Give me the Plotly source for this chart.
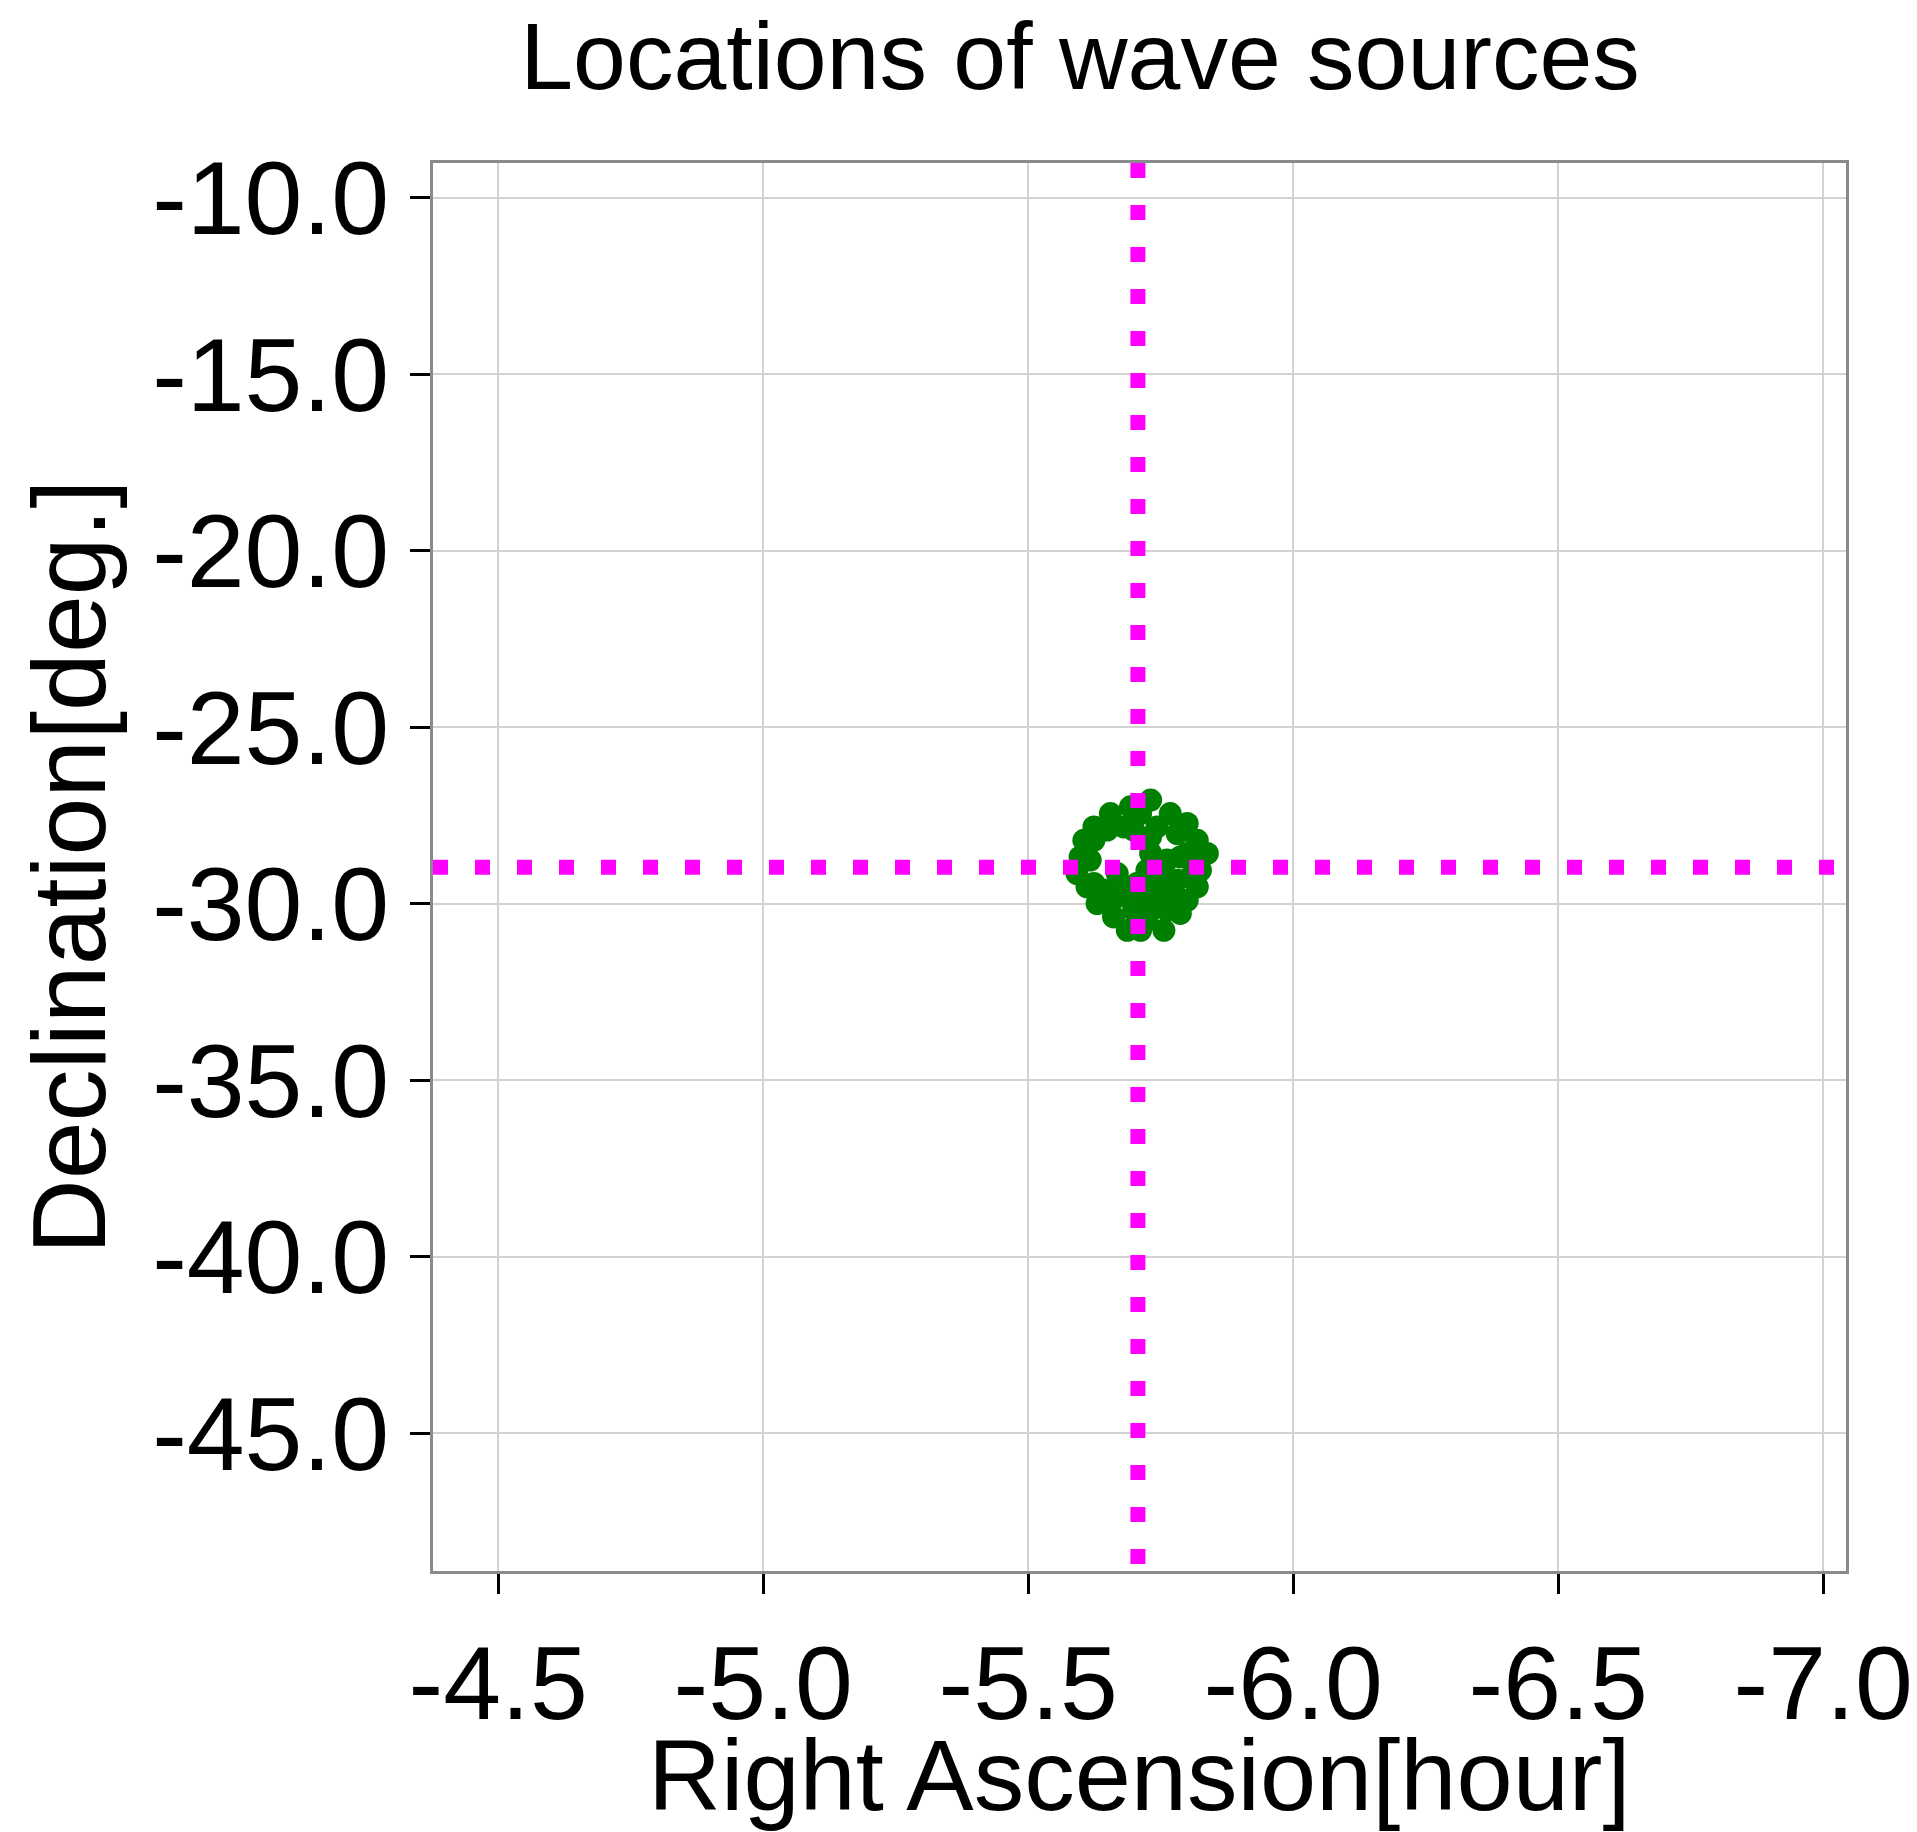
import plotly.graph_objects as go

# Estimated source positions (right ascension in hours, declination in degrees)
ra_hours = [
    -5.731, -5.693, -5.768, -5.655, -5.800, -5.624, -5.605, -5.819, -5.838,
    -5.743, -5.781, -5.598, -5.592, -5.611, -5.825, -5.819, -5.800, -5.781,
    -5.762, -5.630, -5.661, -5.687, -5.724, -5.756, -5.787, -5.712, -5.680,
    -5.743, -5.642, -5.724, -5.749, -5.705, -5.787, -5.731, -5.680, -5.668,
    -5.712, -5.800, -5.624, -5.617, -5.812, -5.806, -5.762, -5.743, -5.762,
    -5.699, -5.649, -5.624, -5.668, -5.774, -5.731, -5.699, -5.649, -5.712,
    -5.731,
]
dec_deg = [
    -27.06, -27.25, -27.44, -27.44, -27.72, -27.82, -28.20, -28.20, -28.57,
    -27.82, -28.01, -28.67, -29.14, -29.52, -29.05, -29.52, -29.90, -29.33,
    -28.76, -29.99, -30.37, -30.75, -30.46, -30.75, -30.27, -29.80, -29.61,
    -29.71, -29.61, -29.05, -29.05, -29.42, -28.67, -28.57, -27.82, -29.14,
    -27.44, -28.57, -28.20, -28.76, -28.76, -29.24, -29.33, -29.33, -30.18,
    -30.18, -29.99, -29.42, -29.80, -29.71, -28.10, -27.91, -27.91, -30.75,
    -30.18,
]

# True source position
ra_true = -5.707
dec_true = -28.96

x_ticks = [-4.5, -5.0, -5.5, -6.0, -6.5, -7.0]
x_tick_labels = ["-4.5", "-5.0", "-5.5", "-6.0", "-6.5", "-7.0"]
y_ticks = [-10.0, -15.0, -20.0, -25.0, -30.0, -35.0, -40.0, -45.0]
y_tick_labels = ["-10.0", "-15.0", "-20.0", "-25.0", "-30.0", "-35.0", "-40.0", "-45.0"]

FONT = "Liberation Sans, Arial, Helvetica, sans-serif"

fig = go.Figure()

fig.add_trace(go.Scatter(
    x=ra_hours, y=dec_deg, mode="markers",
    marker=dict(color="#008000", size=23, line=dict(width=0)),
    showlegend=False,
))

fig.add_vline(x=ra_true, y0=1, y1=0,
              line=dict(color="#ff00ff", width=15, dash="15px,27px"))
fig.add_hline(y=dec_true, x0=0, x1=1,
              line=dict(color="#ff00ff", width=15, dash="15px,27px"))

axis_common = dict(
    showgrid=True, gridcolor="#d2d2d2", gridwidth=2,
    showline=True, linecolor="#8a8a8a", linewidth=3, mirror=True,
    ticks="outside", ticklen=20, tickwidth=3, tickcolor="#000000",
    tickfont=dict(family=FONT, size=104, color="#000000"),
    zeroline=False,
)

# x-axis title placed as an annotation so it can sit close to the bottom edge
fig.add_annotation(
    text="Right Ascension[hour]", showarrow=False,
    xref="paper", yref="paper", x=0.5, y=-0.1449,
    xanchor="center", yanchor="middle",
    font=dict(family=FONT, size=101, color="#000000"),
)

fig.update_layout(
    width=1917, height=1832,
    paper_bgcolor="white", plot_bgcolor="white",
    margin=dict(l=433, r=71, t=163, b=261, autoexpand=False),
    title=dict(
        text="Locations of wave sources",
        font=dict(family=FONT, size=95, color="#000000"),
        x=1080 / 1917, xanchor="center", xref="container",
        y=1 - 56 / 1832, yanchor="middle", yref="container",
    ),
    xaxis=dict(
        range=[-4.377, -7.043],
        tickvals=x_ticks, ticktext=x_tick_labels,
        **axis_common,
    ),
    yaxis=dict(
        range=[-48.9, -9.01],
        tickvals=y_ticks, ticktext=y_tick_labels,
        title=dict(text="Declination[deg.]",
                   font=dict(family=FONT, size=104, color="#000000"),
                   standoff=12),
        **axis_common,
    ),
)

fig.write_html("out.html")
